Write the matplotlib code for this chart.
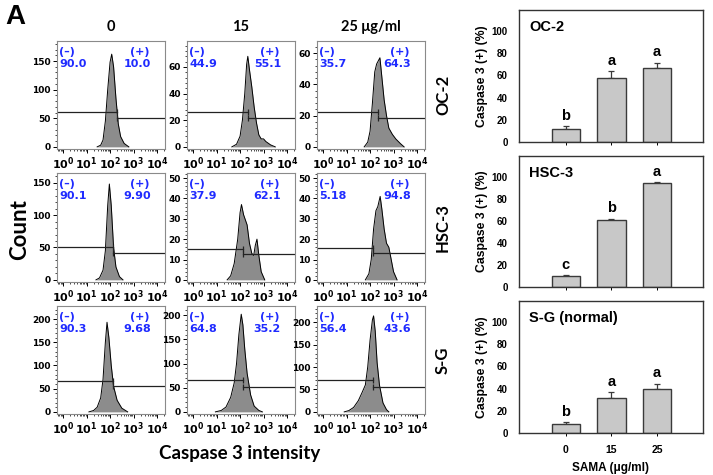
import numpy as np
import matplotlib
matplotlib.use('Agg')
import matplotlib.pyplot as plt
from matplotlib.ticker import AutoMinorLocator, LogLocator, NullFormatter, FixedLocator

# ---- histogram traces (log10 intensity, count) ----
cells = ['OC-2', 'HSC-3', 'S-G']
doses = ['0', '15', '25 \u03bcg/ml']

hist_x = [
    [[1.45, 1.6, 1.7, 1.8, 1.9, 2.0, 2.07, 2.15, 2.25, 2.35, 2.45, 2.6, 2.8],
     [1.65, 1.85, 2.0, 2.1, 2.2, 2.28, 2.33, 2.4, 2.5, 2.6, 2.7, 2.8, 2.9, 3.0, 3.1, 3.3, 3.5],
     [1.75, 1.9, 2.0, 2.1, 2.2, 2.28, 2.35, 2.42, 2.5, 2.6, 2.7, 2.8, 2.95, 3.1, 3.3, 3.45]],
    [[1.4, 1.55, 1.7, 1.8, 1.9, 1.97, 2.05, 2.15, 2.25, 2.4, 2.55],
     [1.45, 1.6, 1.75, 1.9, 2.0, 2.06, 2.15, 2.3, 2.4, 2.5, 2.58, 2.65, 2.72, 2.8, 2.9, 3.05],
     [1.8, 1.95, 2.05, 2.15, 2.25, 2.33, 2.43, 2.5, 2.6, 2.7, 2.8, 2.9, 3.0, 3.15]],
    [[1.1, 1.3, 1.45, 1.6, 1.7, 1.8, 1.87, 1.95, 2.05, 2.15, 2.3, 2.5, 2.75],
     [0.95, 1.2, 1.4, 1.6, 1.75, 1.85, 1.95, 2.05, 2.12, 2.2, 2.3, 2.45, 2.6, 2.8, 2.95],
     [0.9, 1.1, 1.3, 1.5, 1.65, 1.8, 1.9, 2.0, 2.1, 2.15, 2.22, 2.3, 2.4, 2.55, 2.7, 2.8]],
]
hist_y = [
    [[0, 3, 12, 45, 100, 148, 162, 140, 85, 40, 18, 6, 0],
     [0, 2, 8, 20, 40, 62, 68, 58, 45, 30, 18, 9, 6, 6, 4, 1.5, 0],
     [0, 3, 10, 28, 48, 53, 55, 57, 45, 30, 20, 12, 8, 5, 2, 0]],
    [[0, 3, 15, 45, 115, 148, 115, 50, 20, 5, 0],
     [0, 2, 8, 20, 33, 37, 32, 27, 18, 13, 12, 17, 20, 12, 4, 0],
     [0, 3, 10, 25, 34, 36, 41, 35, 25, 18, 16, 10, 4, 0]],
    [[0, 3, 10, 30, 70, 150, 193, 160, 100, 55, 25, 8, 0],
     [0, 3, 10, 30, 60, 100, 160, 202, 180, 130, 80, 35, 12, 3, 0],
     [0, 3, 10, 25, 42, 60, 100, 160, 205, 214, 180, 110, 60, 20, 5, 0]],
]
ylims = [[185, 79.5, 67.7], [165, 52.5, 52.5], [228, 219, 236]]
yticks = [[[0, 50, 100, 150], [0, 20, 40, 60], [0, 20, 40, 60]],
          [[0, 50, 100, 150], [0, 10, 20, 30, 40, 50], [0, 10, 20, 30, 40, 50]],
          [[0, 50, 100, 150, 200], [0, 50, 100, 150, 200], [0, 50, 100, 150, 200]]]
neg_pct = [['90.0', '44.9', '35.7'], ['90.1', '37.9', '5.18'], ['90.3', '64.8', '56.4']]
pos_pct = [['10.0', '55.1', '64.3'], ['9.90', '62.1', '94.8'], ['9.68', '35.2', '43.6']]
gate_cut = [[2.3, 2.33, 2.35], [2.14, 2.14, 2.14], [2.14, 2.14, 2.14]]
gate_left = [[61, 26, 22], [50.5, 15.3, 15.8], [67, 65, 70]]
gate_right = [[51, 22, 18.7], [42, 12.7, 13.2], [56, 52, 56]]

# ---- bar charts ----
bar_titles = ['OC-2', 'HSC-3', 'S-G (normal)']
bar_cats = ['0', '15', '25']
bar_vals = [[12, 58, 67], [10, 61, 94.5], [8, 32, 40]]
bar_err = [[2.5, 6, 4.5], [0.6, 1.2, 0.6], [1.8, 5, 4.5]]
bar_letters = [['b', 'a', 'a'], ['c', 'b', 'a'], ['b', 'a', 'a']]

plt.rcParams['mathtext.fontset'] = 'dejavusans'

W, H = 713, 475
fig = plt.figure(figsize=(W / 100, H / 100), dpi=100)

def px_axes(x0, y0, x1, y1):
    return fig.add_axes([x0 / W, 1 - y1 / H, (x1 - x0) / W, (y1 - y0) / H])

blue = '#1f2bff'
col_x = [57, 187, 317]
row_y = [(41, 149), (173, 282), (306, 414)]
xl = (10 ** -0.26, 10 ** 4.34)

for r in range(3):
    for c in range(3):
        ax = px_axes(col_x[c], row_y[r][0], col_x[c] + 108, row_y[r][1])
        xs = 10 ** np.array(hist_x[r][c])
        ys = np.array(hist_y[r][c])
        ax.fill_between(xs, ys, color='#8c8c8c', lw=0)
        ax.plot(xs, ys, color='black', lw=0.7)
        ax.set_xscale('log')
        ax.set_xlim(*xl)
        ax.set_ylim(-ylims[r][c] * 0.02, ylims[r][c])
        ax.xaxis.set_major_locator(FixedLocator([1, 10, 100, 1000, 10000]))
        ax.set_xticklabels(['$\\mathbf{10^{%d}}$' % k for k in range(5)])
        ax.xaxis.set_minor_locator(LogLocator(base=10, subs=np.arange(2, 10), numticks=20))
        ax.xaxis.set_minor_formatter(NullFormatter())
        ax.set_yticks(yticks[r][c])
        ax.yaxis.set_minor_locator(AutoMinorLocator(5))
        ax.tick_params(which='major', length=3, width=0.7, labelsize=6.5, pad=1.5)
        ax.tick_params(axis='x', which='major', labelsize=8, pad=1.5)
        ax.tick_params(which='minor', length=1.5, width=0.5)
        for lab in ax.get_yticklabels():
            lab.set_fontweight('bold')
        for s in ax.spines.values():
            s.set_color('#8a8a8a')
            s.set_linewidth(0.8)
        # gates
        cut = 10 ** gate_cut[r][c]
        ax.plot([xl[0], cut], [gate_left[r][c]] * 2, color='#222222', lw=0.9)
        ax.plot([cut], [gate_left[r][c]], marker='|', ms=4, color='#222222', mew=0.9)
        ax.plot([cut, xl[1]], [gate_right[r][c]] * 2, color='#222222', lw=0.9)
        ax.plot([cut], [gate_right[r][c]], marker='|', ms=4, color='#222222', mew=0.9)
        kw = dict(transform=ax.transAxes, color=blue, fontsize=8, fontweight='bold', va='center')
        ax.text(0.02, 0.9, '(\u2013)', ha='left', **kw)
        ax.text(0.02, 0.79, neg_pct[r][c], ha='left', **kw)
        ax.text(0.86, 0.9, '(+)', ha='right', **kw)
        ax.text(0.87, 0.79, pos_pct[r][c], ha='right', **kw)

tfont = 'Lato'
for c, d in enumerate(doses):
    fig.text((col_x[c] + 54) / W, 1 - 27 / H, d, ha='center', va='center',
             fontsize=10.5, fontweight='bold', family=tfont)
for r, name in enumerate(cells):
    yc = (row_y[r][0] + row_y[r][1]) / 2
    fig.text(443 / W, 1 - yc / H, name, rotation=90, ha='center', va='center',
             fontsize=12, fontweight='bold', family=tfont)

fig.text(15 / W, 1 - 17 / H, 'A', ha='center', va='center', fontsize=20,
         fontweight='bold', family='Liberation Sans')
fig.text(20 / W, 1 - 230 / H, 'Count', rotation=90, ha='center', va='center',
         fontsize=16, fontweight='bold', family=tfont)
fig.text(240 / W, 1 - 453 / H, 'Caspase 3 intensity', ha='center', va='center',
         fontsize=13.5, fontweight='bold', family=tfont)

bar_box = [(10, 142), (156, 287), (301, 433)]
for i in range(3):
    ax = px_axes(519, bar_box[i][0], 703, bar_box[i][1])
    pos = np.arange(len(bar_cats))
    ax.bar(pos, bar_vals[i], width=0.62, color='#c8c8c8', edgecolor='#3a3a3a', lw=1, zorder=2)
    ax.errorbar(pos, bar_vals[i], yerr=[np.zeros(3), bar_err[i]], fmt='none',
                ecolor='#3a3a3a', elinewidth=0.9, capsize=2.5, capthick=0.9, zorder=1)
    for p, v, e, l in zip(pos, bar_vals[i], bar_err[i], bar_letters[i]):
        ax.text(p, v + e + 3, l, ha='center', va='bottom', fontsize=10.5,
                fontweight='bold', family='Liberation Sans')
    ax.set_xlim(-1.03, 3.01)
    ax.set_ylim(0, 119)
    ax.set_yticks([0, 20, 40, 60, 80, 100])
    ax.set_xticks(pos)
    ax.tick_params(axis='y', length=0, labelsize=7, pad=8)
    ax.tick_params(axis='x', length=2.5, width=0.7, labelsize=7.5, pad=6)
    for lab in ax.get_yticklabels():
        lab.set_fontweight('bold')
        lab.set_family('Liberation Sans')
    if i < 2:
        ax.set_xticklabels([])
    else:
        ax.set_xticklabels(bar_cats, fontweight='bold', family='Liberation Sans')
        ax.set_xlabel('SAMA (\u03bcg/ml)', fontsize=8.5, fontweight='bold',
                      family='Liberation Sans', labelpad=5)
    ax.set_ylabel('Caspase 3 (+) (%)', fontsize=8.8, fontweight='bold',
                  family='Liberation Sans', labelpad=3)
    for s in ax.spines.values():
        s.set_color('#333333')
        s.set_linewidth(1)
    ax.text(0.055, 0.87, bar_titles[i], transform=ax.transAxes, fontsize=10.5,
            fontweight='bold', family='Liberation Sans', va='center')

fig.savefig('out.png', dpi=100)
